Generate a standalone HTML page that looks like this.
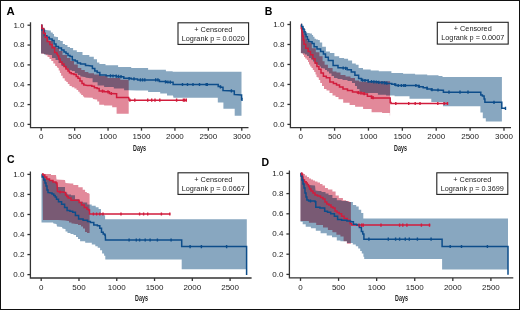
<!DOCTYPE html>
<html><head><meta charset="utf-8"><style>
html,body{margin:0;padding:0;background:#fff;}
svg{display:block;will-change:transform;}
text{font-family:"Liberation Sans",sans-serif;fill:#222;}
.pl{font-size:10.5px;font-weight:bold;fill:#000;}
.yl{font-size:8px;text-anchor:end;}
.xl{font-size:8px;text-anchor:middle;}
.dl{font-size:9.3px;font-weight:bold;text-anchor:middle;}
.lt{font-size:7.3px;text-anchor:middle;}
.ax{stroke:#333;stroke-width:1.3;fill:none;}
.lg{stroke:#222;stroke-width:1.1;fill:#fff;}
.bb{fill:#88a7c0;}
.rb{fill:#e2899a;mix-blend-mode:multiply;}
.bl{stroke:#0d4d8a;stroke-width:1.5;fill:none;}
.bt{stroke:#0d4d8a;stroke-width:1.4;fill:none;}
.rl{stroke:#d11c3c;stroke-width:1.5;fill:none;}
.rt{stroke:#d11c3c;stroke-width:1.4;fill:none;}
</style></head><body>
<svg width="520" height="310" viewBox="0 0 520 310">
<rect x="0.5" y="0.5" width="519" height="309" fill="#fff" stroke="#111" stroke-width="1"/>
<g id="cA" style="isolation:isolate"><polygon class="bb" points="41,25.2 42.5,25.2 42.5,28 44,28 45,28 45,30 46,30 49.5,30.5 50.8,30.5 50.8,32.5 52,32.5 52.8,32.5 52.8,34 53.5,34 54,34 54,36.5 54.5,36.5 57,37 58,37 58,40 59,40 60.2,40 60.2,41 61.5,41 62.8,41 62.8,44 64,44 65,44 65,45 66,45 67.5,45 67.5,47 69,47 70,47 70,48 71,48 73.1,48 73.1,50.3 75.2,50.3 76.8,50.3 76.8,51.9 78.4,51.9 82.5,51.9 82.5,55.1 86.5,55.1 89.3,55.1 89.3,56.7 92.1,56.7 93.8,56.7 93.8,59.2 95.4,59.2 97,59.2 97,62.4 98.6,62.4 99.4,62.4 99.4,64 100.2,64 105.5,64 105.5,65.3 110.7,65.3 118.1,65.3 118.1,67 125.5,67 131.2,67 131.2,68.1 136.8,68.1 148.1,68.1 148.1,69.7 159.4,69.7 165.9,69.7 165.9,71.3 172.3,71.3 173,71.8 241.5,71.8 241.5,115.8 234.7,115.8 234.7,108.7 223.4,108.7 223.4,102.6 217.8,102.6 217.8,97.8 173.5,97.8 173,95.5 167,95.5 167,93.6 161,93.6 160.2,93.6 160.2,92 159.4,92 148.1,92 148.1,90.4 136.8,90.4 128.7,90.2 124.1,90.2 124.1,88.6 119.5,88.6 113.8,88.6 113.8,87 108.2,87 104.1,87 104.1,85.4 100,85.4 97.6,85.4 97.6,82.2 95.2,82.2 92.6,82.2 92.6,78.3 90,78.3 86.8,77.7 85.5,77.7 85.5,77 84.2,77 81.6,76.4 80.3,76.4 80.3,75.1 79,75.1 77.8,75.1 77.8,73.2 76.5,73.2 74.8,73.2 74.8,70.9 73.2,70.9 71.6,70.9 71.6,70 70,70 68.5,70 68.5,68.5 67,68.5 65,68.5 65,66 63,66 61.5,66 61.5,63 60,63 58.5,63 58.5,60 57,60 55.5,60 55.5,58 54,58 52,58 52,55 50,55 47,54.5 44,54.5 44,53.5 41,53.5"/>
<polygon class="rb" points="41,25.2 42,25.2 42,31 43,31 44.5,31 44.5,37 46,37 48.5,37 48.5,41 51,41 53,41 53,45.5 55,45.5 56.5,45.5 56.5,48 58,48 59,48 59,51 60,51 62.5,51 62.5,55 65,55 67,55 67,58 69,58 70.5,58 70.5,61 72,61 74,61 74,64.5 76,64.5 77.8,64.5 77.8,68 79.7,68 81.3,68 81.3,69.9 82.9,69.9 84.8,69.9 84.8,71.9 86.8,71.9 88.4,71.9 88.4,73.2 90,73.2 94,73.2 94,74.5 98,74.5 100.5,74.5 100.5,76 103,76 107.5,76 107.5,78 112,78 120.3,78 120.3,79.7 128.7,79.7 128.7,113.7 117,113.7 116.6,113.7 116.6,107.2 116.2,107.2 112.2,107.2 112.2,105.6 108.2,105.6 104.1,105.6 104.1,104.8 100,104.8 99.2,104.8 99.2,101.5 98.5,101.5 97.2,101.5 97.2,99.4 96,99.4 93.1,99.1 92.5,97.8 84.4,97.5 84.1,97.5 84.1,96.5 83.7,96.5 82.9,96.5 82.9,94.9 82.1,94.9 81.2,94.9 81.2,93.6 80.2,93.6 79.7,93.6 79.7,91.7 79.2,91.7 78.2,91.7 78.2,90.1 77.3,90.1 76.5,90.1 76.5,88.5 75.7,88.5 74.4,88.5 74.4,87.2 73.1,87.2 71.8,87.2 71.8,85.9 70.5,85.9 69.5,85.9 69.5,83.9 68.6,83.9 67.8,83.9 67.8,82 67,82 66.3,82 66.3,80.8 65.6,80.8 64.7,80.8 64.7,78.3 63.7,78.3 62.7,78.3 62.7,75.7 61.7,75.7 61.1,75.7 61.1,73.1 60.5,73.1 59.9,73.1 59.9,70.5 59.2,70.5 58.7,70.5 58.7,67.9 58.2,67.9 57.5,67.5 56.9,67.5 56.9,66.1 56.2,66.1 55.2,66.1 55.2,63.5 54.3,63.5 53.3,63.5 53.3,61 52.3,61 51.3,61 51.3,59 50.4,59 49.5,59 49.5,57.1 48.5,57.1 47.5,57.1 47.5,55.2 46.5,55.2 45.5,55.2 45.5,53.9 44.6,53.9 41,53.5"/>
<polyline class="bl" points="41,25.2 41.9,25.2 41.9,30.1 42.8,30.1 44.4,30.1 44.4,35.7 46,35.7 46.9,35.7 46.9,37.3 47.7,37.3 49.3,37.3 49.3,39 50.9,39 52.1,39 52.1,40.6 53.3,40.6 54.1,40.6 54.1,44 55,44 56,44 56,46.5 57,46.5 58.5,46.5 58.5,48 60,48 61.5,48 61.5,50 63,50 64,50 64,52 65,52 66,52 66,53.5 67,53.5 68,53.5 68,55.5 69,55.5 70,55.5 70,56.5 71,56.5 72.3,56.5 72.3,60 73.6,60 75.2,60 75.2,61 76.8,61 77.4,61 77.4,63 78,63 80.5,63 80.5,64 83,64 85.5,64 85.5,65.5 88,65.5 91.3,66 92.4,66 92.4,68.4 93.6,68.4 94.8,68.4 94.8,71 96,71 97.2,71 97.2,72.5 98.5,72.5 99.8,72.5 99.8,75 101.2,75 106.1,75 106.1,75.8 111,75.8 116.6,75.8 116.6,76.7 122.2,76.7 123.8,76.7 123.8,78.3 125.5,78.3 131.2,78.3 131.2,79.1 136.8,79.1 137.6,79.1 137.6,79.9 138.4,79.9 158.6,79.9 159.4,79.9 159.4,81.5 160.2,81.5 166.2,81.5 166.2,82.3 172.3,82.3 173.1,82.3 173.1,84.5 173.9,84.5 217.8,84.5 218.2,84.5 218.2,86.5 218.6,86.5 220.6,86.5 220.6,87.3 222.6,87.3 223,87.3 223,90.5 223.4,90.5 234,91 234.3,91 234.3,94.5 234.7,94.5 241.2,94.9 241.6,94.9 241.6,99.4 242,99.4"/>
<polyline class="rl" points="41,25.2 41.9,25.2 41.9,28.5 42.8,28.5 43.6,28.5 43.6,33.3 44.5,33.3 45.2,33.3 45.2,37.3 46,37.3 47.2,37.3 47.2,41.4 48.5,41.4 49.8,41.4 49.8,44.6 51,44.6 52.1,44.6 52.1,47.8 53.3,47.8 54.6,47.8 54.6,52.5 56,52.5 56.8,52.5 56.8,54 57.5,54 58,56 58.8,56 58.8,59 59.5,59 60.2,59 60.2,62 61,62 62,62 62,64 63,64 64,64 64,66.5 65,66.5 66,66.5 66,69 67,69 68,69 68,71 69,71 69.5,71 69.5,72.8 70,72.8 71.3,72.8 71.3,73.8 72.6,73.8 73.9,73.8 73.9,74.5 75.2,74.5 76.2,74.5 76.2,76.4 77.1,76.4 78,76.4 78,78.3 79,78.3 80,78.3 80,80.9 81,80.9 82,80.9 82,83.5 82.9,83.5 83.8,83.5 83.8,85.1 84.8,85.1 87.4,85.4 90.5,85.4 91.8,85.4 91.8,86.2 93.1,86.2 94.4,86.2 94.4,87.8 95.7,87.8 97.1,87.8 97.1,88.6 98.5,88.6 99.2,88.6 99.2,91 100,91 104.1,91 104.1,91.8 108.2,91.8 109.4,91.8 109.4,93.5 110.6,93.5 116.2,93.8 116.6,93.8 116.6,97.5 117,97.5 128.7,97.5 129.2,100.2 187,100.2"/>
<path class="bt" d="M110.5 74.2v3.2M113 74.4v3.2M116.2 74.6v3.2M118.6 74.8v3.2M121 75v3.2M129.1 77v3.2M134 77.3v3.2M140.4 78.3v3.2M142.6 78.3v3.2M144.8 78.3v3.2M155.7 78.3v3.2M157.9 78.3v3.2M165.5 80.3v3.2M167.9 80.4v3.2M170.3 80.6v3.2M182.5 82.9v3.2M187.5 82.9v3.2M193 82.9v3.2M199.5 82.9v3.2M206.2 82.9v3.2M207.3 82.9v3.2M220.4 85.3v3.2M231.4 89.3v3.2M242 97.8v3.2"/>
<path class="rt" d="M102.5 89.6v3.2M108 90.2v3.2M111.3 91.9v3.2M129.9 98.6v3.2M134.8 98.6v3.2M147.7 98.6v3.2M151.7 98.6v3.2M155 98.6v3.2M159.8 98.6v3.2M176.6 98.6v3.2M183.4 98.6v3.2M184.5 98.6v3.2M186.3 98.6v3.2"/></g>
<g id="cB" style="isolation:isolate"><polygon class="bb" points="301,24.6 301.9,24.6 301.9,26.5 302.9,26.5 303.9,26.5 303.9,29.1 304.8,29.1 305.5,29.1 305.5,31.7 306.1,31.7 307.1,31.7 307.1,33 308,33 309.6,33 309.6,33.6 311.3,33.6 311.9,33.6 311.9,34.9 312.5,34.9 313.1,34.9 313.1,36.8 313.8,36.8 314.5,36.8 314.5,38.8 315.1,38.8 316.1,38.8 316.1,39.4 317,39.4 318,39.4 318,40.1 319,40.1 319.8,40.1 319.8,42.6 320.6,42.6 322.2,42.6 322.2,46.7 323.8,46.7 325.9,46.7 325.9,51.5 327.9,51.5 329.9,51.5 329.9,53.1 331.9,53.1 334.4,53.1 334.4,56.3 336.8,56.3 339.2,56.3 339.2,58 341.6,58 344.1,58 344.1,58.8 346.5,58.8 348.1,58.8 348.1,60.4 349.7,60.4 352.1,60.4 352.1,63.6 354.5,63.6 355.8,63.6 355.8,64.8 357,64.8 358.6,64.8 358.6,68.1 360.2,68.1 363,68.1 363,69.5 365.9,69.5 370.7,69.5 370.7,70.5 375.5,70.5 378.8,70.5 378.8,71.3 382,71.3 386.9,71.3 391.4,71.3 391.4,72.9 395.8,72.9 403.1,72.9 403.1,73.7 410.3,73.7 415.1,73.7 415.1,74.5 420,74.5 427.2,74.5 427.2,75.3 434.5,75.3 438.5,75.3 438.5,76 442.5,76 442.5,77 501.9,77 501.9,121.5 485.8,121.5 485.8,118.3 482.8,118.3 482.8,112.6 480.4,112.6 480.4,106.3 443.4,106.3 443,106.3 443,102 442.6,102 431.3,102 431.3,98.8 420,98.8 409.5,98.8 409.5,96.3 399,96.3 394.6,96.3 394.6,95.5 390.1,95.5 386.1,95.5 386.1,94.7 382,94.7 377.9,94.7 377.9,93.1 373.9,93.1 366,93 363.5,93 363.5,92 361,92 359.5,92 359.5,89 358,89 357,89 357,86 356,86 355,86 355,83 354,83 352,83 352,81 350,81 347.5,81 347.5,80 345,80 342.5,80 342.5,79 340,79 337.5,79 337.5,78 335,78 334,78 334,76 333,76 331.5,76 331.5,73.5 330,73.5 329,73.5 329,71.5 328,71.5 327,71.5 327,70 326,70 325,70 325,68.5 324,68.5 322,68 321,68 321,66.5 320,66.5 319.5,66.5 319.5,65 319,65 317.5,65 317.5,64 316,64 315,64 315,61.5 314,61.5 313,61.5 313,59.5 312,59.5 311,59.5 311,58 310,58 309,58 309,56 308,56 307,56 307,54.5 306,54.5 305,54.5 305,53.5 304,53.5 300.9,53.1"/>
<polygon class="rb" points="301,24.6 301.8,24.6 301.8,28 302.5,28 303.2,28 303.2,31.7 304,31.7 304.5,31.7 304.5,35 305,35 305.8,35 305.8,38.5 306.5,38.5 307.2,38.5 307.2,41 308,41 308.6,41 308.6,42.6 309.3,42.6 311.8,42.6 311.8,48.3 314.2,48.3 315.8,48.3 315.8,52.3 317.4,52.3 319.4,52.3 319.4,56.3 321.4,56.3 322.6,56.3 322.6,61.2 323.8,61.2 324.6,61.2 324.6,64.8 325.5,64.8 327.9,64.8 327.9,68.1 330.3,68.1 332.6,68.1 332.6,71.5 335,71.5 336.5,71.5 336.5,72.5 338,72.5 340.5,72.5 340.5,75 343,75 345.5,75 345.5,76.5 348,76.5 350.5,76.5 350.5,78 353,78 355,78 355,80.5 357,80.5 359,80.5 359,81.5 361,81.5 367,81.8 382,81.2 390.1,81.2 390.1,115.5 389.8,115.5 389.8,113.1 382.1,113.1 382.1,112.3 374.4,112.3 371.6,112.3 371.6,109.1 368.8,109.1 363.1,109.1 363.1,106.7 357.5,106.7 355.1,106.7 355.1,105 352.6,105 349.6,105 349.6,102.8 346.5,102.8 343.2,102.8 343.2,99.3 340,99.3 338.5,99.3 338.5,97 337,97 335.5,97 335.5,95.5 334,95.5 332.5,95.5 332.5,93 331,93 329.5,93 329.5,90.5 328,90.5 326.5,90.5 326.5,89 325,89 324,89 324,86 323,86 322,86 322,83 321,83 320.2,83 320.2,80 319.5,80 318.8,80 318.8,77.5 318,77.5 317,77 316.5,77 316.5,74.5 316,74.5 315.5,74.5 315.5,72 315,72 314.2,72 314.2,70 313.5,70 312.8,70 312.8,68 312,68 311.5,68 311.5,66.5 311,66.5 310.2,66.5 310.2,64.5 309.5,64.5 309,64.5 309,62 308.5,62 308,62 308,60 307.5,60 306.8,60 306.8,58.5 306,58.5 305.2,58.5 305.2,57 304.5,57 304,57 304,55 303.5,55 303,55 303,53.5 302.5,53.5 300.9,53.1"/>
<polyline class="rl" points="301,24.6 301.3,24.6 301.3,28.5 301.6,28.5 302.2,32.3 302.5,32.3 302.5,36.2 302.9,36.2 303.2,36.2 303.2,40.1 303.5,40.1 304,40.1 304,44.2 304.5,44.2 305.7,44.2 305.7,48.3 306.9,48.3 308.1,48.3 308.1,51.5 309.3,51.5 310.5,51.5 310.5,54.7 311.7,54.7 312.9,54.7 312.9,58.8 314.2,58.8 315,58.8 315,63 315.8,63 316.9,63 316.9,66.5 318,66.5 318.9,66.5 318.9,69.3 319.8,69.3 321,69.3 321,72.9 322.2,72.9 323.4,72.9 323.4,76.2 324.7,76.2 326.3,76.2 326.3,77.8 327.9,77.8 329.9,77.8 329.9,82 331.9,82 333.4,82 333.4,83.5 335,83.5 336.5,83.5 336.5,85 338,85 339.5,85 339.5,87 341,87 343,87 343,89 345,89 347.5,89 347.5,90.5 350,90.5 352.5,90.5 352.5,92 355,92 357.5,92 357.5,93 360,93 363,93 363,94 366,94 367.4,94 367.4,96.2 368.8,96.2 371.6,96.2 371.6,98.1 374.4,98.1 389.8,98.1 390.2,98.1 390.2,102.6 390.6,102.6 391,102.6 391,103.5 391.4,103.5 448.1,103.5"/>
<polyline class="bl" points="301,24.6 301.6,24.6 301.6,26.5 302.2,26.5 302.9,26.5 302.9,29.1 303.5,29.1 304.1,29.1 304.1,31.7 304.8,31.7 305.1,31.7 305.1,34.3 305.5,34.3 306.1,34.3 306.1,36.8 306.7,36.8 307.4,36.8 307.4,39.4 308,39.4 308.6,39.4 308.6,41.4 309.3,41.4 310.9,41.8 312.1,41.8 312.1,43.4 313.3,43.4 314.1,43.4 314.1,46.7 315,46.7 317,46.7 317,49.1 319,49.1 320.6,49.1 320.6,51.5 322.2,51.5 323.4,51.5 323.4,53.9 324.7,53.9 325.5,53.9 325.5,57.2 326.3,57.2 328.3,57.2 328.3,60.5 330.3,60.5 333.1,60.5 333.1,65.5 336,65.5 338,65.5 338,67.7 340,67.7 344.8,68.1 347.2,68.1 347.2,69.7 349.7,69.7 351.3,69.7 351.3,72.1 352.9,72.1 354.9,72.1 354.9,75.3 357,75.3 358.6,75.3 358.6,78.6 360.2,78.6 361.4,78.6 361.4,80.2 362.6,80.2 368.2,80.2 368.2,81.8 373.9,81.8 377.9,81.8 377.9,82.6 382,82.6 385.6,82.6 385.6,83.4 389.3,83.4 391.8,83.4 391.8,84.2 394.2,84.2 395.8,84.2 395.8,85.5 397.4,85.5 416.8,85.5 418.4,85.5 418.4,86.7 420,86.7 423.2,86.7 423.2,87.8 426.5,87.8 427.3,87.8 427.3,89.1 428.1,89.1 431.3,89.1 431.3,89.9 434.5,89.9 442.6,90.2 443.4,90.2 443.4,92.2 444.1,92.2 480.4,92.2 480.8,92.2 480.8,95.1 481.2,95.1 482.4,95.1 482.4,95.9 483.7,95.9 484.1,95.9 484.1,99.1 484.5,99.1 484.9,99.1 484.9,102.3 485.3,102.3 501.4,102.3 501.8,102.3 501.8,108.3 502.2,108.3 505.5,108.3"/>
<path class="bt" d="M343.2 66.4v3.2M345.7 66.8v3.2M362.6 78.6v3.2M365 78.9v3.2M368.3 79.4v3.2M371.5 79.9v3.2M373.9 80.2v3.2M376.3 80.4v3.2M378.8 80.7v3.2M382 81v3.2M384.4 81.3v3.2M386.8 81.5v3.2M394.9 82.9v3.2M398.2 83.9v3.2M401.4 83.9v3.2M403.8 83.9v3.2M405.4 83.9v3.2M415.9 83.9v3.2M419.2 84.8v3.2M427 86.6v3.2M432 88v3.2M438 88.4v3.2M449 90.6v3.2M460 90.6v3.2M468 90.6v3.2M494 100.7v3.2M505.5 106.7v3.2"/>
<path class="rt" d="M358.6 91.1v3.2M361 91.6v3.2M364.2 92.1v3.2M371.5 95.5v3.2M373.1 96.1v3.2M395.8 101.9v3.2M408.7 101.9v3.2M415.2 101.9v3.2M420 101.9v3.2M437.8 101.9v3.2M444.2 101.9v3.2M447.5 101.9v3.2"/></g>
<g id="cC" style="isolation:isolate"><polygon class="bb" points="41.5,174.5 44,175 44.8,175 44.8,177 45.5,177 46.8,177 46.8,179 48,179 49.5,179 49.5,180.5 51,180.5 53,180.5 53,182 55,182 56,182 56,183 57,183 57,187 64.5,187 65,187 65,192.5 65.5,192.5 67.2,192.5 67.2,194.5 68.9,194.5 71,194.5 71,195.3 73,195.3 75,195.3 75,199.3 77,199.3 79,199.3 79,201.8 81,201.8 83,201.8 83,202.6 85.1,202.6 87.2,202.6 87.2,204.5 89.3,204.5 91.7,204.5 91.7,205.7 94,205.7 95.7,205.7 95.7,207.3 97.4,207.3 98.6,207.3 98.6,208.9 99.8,208.9 101,208.9 101,212.9 102.2,212.9 103.5,212.9 103.5,215.3 104.7,215.3 105.1,215.3 105.1,219.3 105.5,219.3 246.8,219.3 246.8,269.3 181.7,269.3 181.7,259.6 105.3,259.6 105.3,255.8 104.1,255.8 104.1,253.4 102.9,253.4 102.1,253.4 102.1,250.2 101.3,250.2 100.1,250.2 100.1,247.8 98.9,247.8 97.7,247.8 97.7,246.2 96.5,246.2 95.3,246.2 95.3,244.4 94.2,244.4 91.8,244.4 91.8,242.8 89.3,242.8 85.2,242.8 85.2,241.2 81.2,241.2 80.1,241.2 80.1,239 79,239 78,239 78,237 77,237 76,237 76,235 75,235 73.5,235 73.5,234 72,234 70.5,234 70.5,233 69,233 67.5,233 67.5,231.5 66,231.5 65.5,231.5 65.5,229 65,229 62.5,228.5 62,227 57,226.5 56.5,224 53.5,223.5 53,222.5 41.5,222.5"/>
<polygon class="rb" points="42.5,173.8 46,174 51,174 51,175 56,175 56.5,179.5 65,180 65.5,183 71,183.5 73.3,183.5 73.3,185 75.6,185 78.3,185 78.3,187.2 81,187.2 82.7,187.2 82.7,189.7 84.3,189.7 85.1,189.7 85.1,192.1 85.9,192.1 86.8,192.1 86.8,193 87.7,193 88.7,193 88.7,193.7 89.6,193.7 89.6,233 88,233 87,233 87,232 86,232 85,232 85,228.5 84,228.5 83,228.5 83,226.5 82,226.5 81,226.5 81,225 80,225 78,225 78,224 76,224 73,223.5 71.5,223.5 71.5,222.5 70,222.5 69,222.5 69,221 68,221 65,220.5 58,220 43,220"/>
<polyline class="bl" points="41.5,174.5 42.2,174.5 42.2,177 43,177 43.8,177 43.8,180 44.5,180 45,180 45,183 45.5,183 46,183 46,186 46.5,186 47,186 47,190 47.5,190 48,190 48,192.5 48.5,192.5 51,193 52,193 52,194 53,194 53.8,194 53.8,195.5 54.5,195.5 55.2,195.5 55.2,197 56,197 56.5,197 56.5,199.3 57,199.3 58.5,199.3 58.5,201.8 60,201.8 61.6,201.8 61.6,204.2 63.3,204.2 64.6,204.2 64.6,207.6 65.9,207.6 67.1,207.6 67.1,210.5 68.3,210.5 69.9,210.5 69.9,211.3 71.5,211.3 72.7,211.3 72.7,212.3 73.8,212.3 75.4,212.3 75.4,215.5 77,215.5 78.6,215.5 78.6,219 80.2,219 83.1,219 83.1,220.3 85.9,220.3 87.5,220.3 87.5,221.5 89.1,221.5 90.4,221.5 90.4,222.6 91.7,222.6 93.8,222.6 93.8,225 95.8,225 97.4,225 97.4,225.8 99,225.8 99.8,225.8 99.8,228.3 100.6,228.3 101.5,228.3 101.5,232.3 102.4,232.3 103.2,232.3 103.2,233.9 104,233.9 104.7,233.9 104.7,235 105.3,235 105.5,240 181.7,240 181.7,246.6 246.6,246.6 246.6,274.9"/>
<polyline class="rl" points="42,174 43,174 43,175 44,175 44.8,175 44.8,177 45.5,177 46.8,177 46.8,179 48,179 49.5,179 49.5,180.5 51,180.5 53,180.5 53,182 55,182 56,182 56,183 57,183 57.5,191.5 60,192 63,192 65,192.5 65.5,192.5 65.5,195 66,195 66.8,195 66.8,196.5 67.5,196.5 68.2,196.5 68.2,198 69,198 71,198 71,200.2 73,200.2 78,200.3 79.1,200.3 79.1,202.6 80.2,202.6 81.5,202.6 81.5,205 82.7,205 84.3,205 84.3,207.4 85.9,207.4 87,207.4 87,209.2 88,209.2 88.5,209.2 88.5,210 89.1,210 89.5,210 89.5,214 89.9,214 170.3,214"/>
<path class="bt" d="M129.1 238.4v3.2M136.3 238.4v3.2M139.6 238.4v3.2M145.2 238.4v3.2M150.1 238.4v3.2M157.4 238.4v3.2M171.1 238.4v3.2M190.1 245v3.2M201.4 245v3.2M226.6 245v3.2"/>
<path class="rt" d="M60 190.4v3.2M93.4 212.4v3.2M96.6 212.4v3.2M99.8 212.4v3.2M103 212.4v3.2M121 212.4v3.2M139.6 212.4v3.2M143.6 212.4v3.2M147.7 212.4v3.2M161.4 212.4v3.2M169.8 212.4v3.2"/></g>
<g id="cD" style="isolation:isolate"><polygon class="bb" points="300.5,173.5 301.2,173.5 301.2,176 302,176 303,176 303,179 304,179 304.5,179 304.5,181.5 305,181.5 306.5,181.5 306.5,184 308,184 308.5,184 308.5,185 309,185 315,185.5 315.5,190.5 319,191 321.5,191 321.5,192 324,192 325.5,192 325.5,193.5 327,193.5 328.5,193.5 328.5,195 330,195 332.4,195 332.4,197.9 334.8,197.9 336.8,197.9 336.8,200.3 338.8,200.3 341.6,200.3 341.6,201.1 344.5,201.1 347.7,201.1 347.7,202 350.9,202 352.9,202 352.9,204.9 355,204.9 356.2,204.9 356.2,206.5 357.4,206.5 358.7,206.5 358.7,209.7 360,209.7 361.2,209.7 361.2,212.9 362.5,212.9 363.3,212.9 363.3,218.6 364.1,218.6 508,218.6 508,269.6 442.1,269.6 442.1,259 364.2,259 364.2,256.7 363.4,256.7 363.4,253.4 362.6,253.4 361.8,253.4 361.8,251 361,251 360.2,251 360.2,248.6 359.4,248.6 358.2,248.6 358.2,246.2 357,246.2 355.8,246.2 355.8,244.5 354.5,244.5 352.8,244.5 352.8,243 351,243 346.9,243 346.9,241.2 342.8,241.2 340.4,241.2 340.4,240.4 338,240.4 336.8,240.4 336.8,237.2 335.6,237.2 332,237.2 332,235.6 328.3,235.6 326.7,235.6 326.7,233.2 325.1,233.2 320.6,233.2 320.6,230.7 316.2,230.7 315.8,230.7 315.8,228.3 315.4,228.3 310.9,228.3 310.9,226.7 306.5,226.7 305.7,226.7 305.7,224.3 304.9,224.3 302.7,224.3 302.7,221.8 300.5,221.8"/>
<polygon class="rb" points="300.5,173.5 304,174 305,174 305,175.5 306,175.5 307,175.5 307,177 308,177 309,177 309,178.5 310,178.5 311,178.5 311,179.5 312,179.5 313,179.5 313,180.5 314,180.5 315,180.5 315,181.5 316,181.5 317.5,181.5 317.5,182.5 319,182.5 320,182.5 320,184 321,184 322.5,184 322.5,185.5 324,185.5 325,185.5 325,188 326,188 327.9,188 327.9,189.5 329.9,189.5 332.4,189.5 332.4,191.4 334.8,191.4 335.6,191.4 335.6,195.5 336.4,195.5 338.8,195.5 338.8,197.9 341.2,197.9 342.9,197.9 342.9,200.3 344.5,200.3 346.1,200.3 346.1,201.1 347.7,201.1 349.3,201.1 349.3,201.9 350.9,201.9 350.9,243.7 349.3,243.7 346.9,243.7 346.9,241.2 344.5,241.2 343.6,241.2 343.6,236.4 342.8,236.4 340.4,236.4 340.4,234.8 338,234.8 336.4,234.8 336.4,232.3 334.8,232.3 332.4,232.3 332.4,229.9 329.9,229.9 327.9,229.9 327.9,227.5 325.9,227.5 323,227.5 323,225 320.2,225 316.2,225 316.2,222.7 312.2,222.7 308.9,222.7 308.9,221 305.7,221 300.5,221"/>
<polyline class="rl" points="300.5,173.5 302,174 302.5,174 302.5,177 303,177 303.3,180.1 304.5,180.1 304.5,181.7 305.7,181.7 306.1,181.7 306.1,183 306.5,183 307.2,183 307.2,184.5 308,184.5 308.5,184.5 308.5,186.5 309,186.5 309.5,186.5 309.5,189 310,189 311,189 311,191 312,191 313,191 313,193 314,193 315,193 315,195 316,195 317.5,195 317.5,196 319,196 320.5,196 320.5,197.5 322,197.5 323,197.5 323,199 324,199 325,199 325,202 326,202 326.8,202 326.8,204 327.5,204 328.8,204 328.8,205 330,205 331,205 331,207 332,207 333,207 333,208 334,208 335,208 335,211 336,211 337,211 337,212.5 338,212.5 339.2,212.5 339.2,213.8 340.4,213.8 341.6,213.8 341.6,216.2 342.8,216.2 344.1,216.2 344.1,218.6 345.3,218.6 347.3,218.6 347.3,220.2 349.3,220.2 350.1,220.2 350.1,223.5 350.9,223.5 351.7,223.5 351.7,225.1 352.5,225.1 430.3,225.1"/>
<polyline class="bl" points="300.5,173.5 301,173.5 301,176 301.5,176 302,176 302,180 302.5,180 303,180 303,184 303.5,184 304,184 304,188 304.5,188 305,188 305,193 305.5,193 306,193 306,197 306.5,197 306.9,197 306.9,200 307.3,200 308.6,200 308.6,201 310,201 314.6,201 315,201 315,201.7 315.4,201.7 315.8,201.7 315.8,207.3 316.2,207.3 319.9,207.3 319.9,208.1 323.5,208.1 324.7,208.1 324.7,211.3 325.9,211.3 327.5,211.3 327.5,212.2 329.1,212.2 330.7,212.2 330.7,213.8 332.3,213.8 334.4,213.8 334.4,216.2 336.4,216.2 337.6,216.2 337.6,219.4 338.8,219.4 341.6,219.4 341.6,220.2 344.5,220.2 346.9,220.2 346.9,221 349.3,221 350.5,221 350.5,221.8 351.7,221.8 353.4,221.8 353.4,224.3 355,224.3 356.6,224.3 356.6,225.1 358.2,225.1 359.4,225.1 359.4,227.5 360.6,227.5 361.4,227.5 361.4,231.5 362.2,231.5 362.8,231.5 362.8,234 363.4,234 363.9,234 363.9,239.2 364.5,239.2 442.1,239.2 442.1,246.5 508,246.5 508,274.8"/>
<path class="bt" d="M310.5 199.4v3.2M368.9 237.6v3.2M388.3 237.6v3.2M395.6 237.6v3.2M399.6 237.6v3.2M405.3 237.6v3.2M409.3 237.6v3.2M417.4 237.6v3.2M431.1 237.6v3.2M450.2 244.9v3.2M461.5 244.9v3.2M487.4 244.9v3.2"/>
<path class="rt" d="M301.8 172.3v3.2M359 223.5v3.2M361.7 223.5v3.2M363.3 223.5v3.2M381 223.5v3.2M399.6 223.5v3.2M402.8 223.5v3.2M406.9 223.5v3.2M421.4 223.5v3.2M429.5 223.5v3.2"/></g>
<g id="pA"><text x="6.6" y="14.8" class="pl" textLength="8.2" lengthAdjust="spacingAndGlyphs">A</text>
<path d="M30.5 22.2V127.7H248.5" class="ax"/>
<path d="M27.5 124.4H30.5" class="ax"/>
<text x="24.5" y="126.75" class="yl">0.0</text>
<path d="M27.5 104.56H30.5" class="ax"/>
<text x="24.5" y="106.91" class="yl">0.2</text>
<path d="M27.5 84.72H30.5" class="ax"/>
<text x="24.5" y="87.07" class="yl">0.4</text>
<path d="M27.5 64.88H30.5" class="ax"/>
<text x="24.5" y="67.23" class="yl">0.6</text>
<path d="M27.5 45.04H30.5" class="ax"/>
<text x="24.5" y="47.39" class="yl">0.8</text>
<path d="M27.5 25.2H30.5" class="ax"/>
<text x="24.5" y="27.55" class="yl">1.0</text>
<path d="M41.2 127.7V130.7" class="ax"/>
<text x="41.2" y="139.3" class="xl">0</text>
<path d="M74.63 127.7V130.7" class="ax"/>
<text x="74.63" y="139.3" class="xl">500</text>
<path d="M108.06 127.7V130.7" class="ax"/>
<text x="108.06" y="139.3" class="xl">1000</text>
<path d="M141.49 127.7V130.7" class="ax"/>
<text x="141.49" y="139.3" class="xl">1500</text>
<path d="M174.92 127.7V130.7" class="ax"/>
<text x="174.92" y="139.3" class="xl">2000</text>
<path d="M208.35 127.7V130.7" class="ax"/>
<text x="208.35" y="139.3" class="xl">2500</text>
<path d="M241.78 127.7V130.7" class="ax"/>
<text x="241.78" y="139.3" class="xl">3000</text>
<text x="139.5" y="150.9" class="dl" textLength="12.8" lengthAdjust="spacingAndGlyphs">Days</text>
<rect x="178" y="22.8" width="70.6" height="21.6" class="lg"/>
<text x="213.3" y="31.6" class="lt">+ Censored</text>
<text x="213.3" y="40.6" class="lt">Logrank p = 0.0020</text></g><g id="pB"><text x="264.8" y="14.8" class="pl">B</text>
<path d="M290.4 21.2V127.7H511" class="ax"/>
<path d="M287.4 124.4H290.4" class="ax"/>
<text x="284.4" y="126.75" class="yl">0.0</text>
<path d="M287.4 104.42H290.4" class="ax"/>
<text x="284.4" y="106.77" class="yl">0.2</text>
<path d="M287.4 84.44H290.4" class="ax"/>
<text x="284.4" y="86.79" class="yl">0.4</text>
<path d="M287.4 64.46H290.4" class="ax"/>
<text x="284.4" y="66.81" class="yl">0.6</text>
<path d="M287.4 44.48H290.4" class="ax"/>
<text x="284.4" y="46.83" class="yl">0.8</text>
<path d="M287.4 24.5H290.4" class="ax"/>
<text x="284.4" y="26.85" class="yl">1.0</text>
<path d="M300.7 127.7V130.7" class="ax"/>
<text x="300.7" y="139.3" class="xl">0</text>
<path d="M334.58 127.7V130.7" class="ax"/>
<text x="334.58" y="139.3" class="xl">500</text>
<path d="M368.46 127.7V130.7" class="ax"/>
<text x="368.46" y="139.3" class="xl">1000</text>
<path d="M402.34 127.7V130.7" class="ax"/>
<text x="402.34" y="139.3" class="xl">1500</text>
<path d="M436.22 127.7V130.7" class="ax"/>
<text x="436.22" y="139.3" class="xl">2000</text>
<path d="M470.1 127.7V130.7" class="ax"/>
<text x="470.1" y="139.3" class="xl">2500</text>
<path d="M503.98 127.7V130.7" class="ax"/>
<text x="503.98" y="139.3" class="xl">3000</text>
<text x="400.5" y="150.9" class="dl" textLength="12.8" lengthAdjust="spacingAndGlyphs">Days</text>
<rect x="437.3" y="22.3" width="70.9" height="21.8" class="lg"/>
<text x="472.75" y="31.1" class="lt">+ Censored</text>
<text x="472.75" y="40.1" class="lt">Logrank p = 0.0007</text></g><g id="pC"><text x="6.9" y="162.8" class="pl">C</text>
<path d="M30.4 171.4V278H251.6" class="ax"/>
<path d="M27.4 274.6H30.4" class="ax"/>
<text x="24.4" y="276.95" class="yl">0.0</text>
<path d="M27.4 254.56H30.4" class="ax"/>
<text x="24.4" y="256.91" class="yl">0.2</text>
<path d="M27.4 234.52H30.4" class="ax"/>
<text x="24.4" y="236.87" class="yl">0.4</text>
<path d="M27.4 214.48H30.4" class="ax"/>
<text x="24.4" y="216.83" class="yl">0.6</text>
<path d="M27.4 194.44H30.4" class="ax"/>
<text x="24.4" y="196.79" class="yl">0.8</text>
<path d="M27.4 174.4H30.4" class="ax"/>
<text x="24.4" y="176.75" class="yl">1.0</text>
<path d="M41.2 278V281" class="ax"/>
<text x="41.2" y="289.6" class="xl">0</text>
<path d="M78.98 278V281" class="ax"/>
<text x="78.98" y="289.6" class="xl">500</text>
<path d="M116.76 278V281" class="ax"/>
<text x="116.76" y="289.6" class="xl">1000</text>
<path d="M154.54 278V281" class="ax"/>
<text x="154.54" y="289.6" class="xl">1500</text>
<path d="M192.32 278V281" class="ax"/>
<text x="192.32" y="289.6" class="xl">2000</text>
<path d="M230.1 278V281" class="ax"/>
<text x="230.1" y="289.6" class="xl">2500</text>
<text x="141.5" y="301.1" class="dl" textLength="12.8" lengthAdjust="spacingAndGlyphs">Days</text>
<rect x="178" y="172.8" width="70.6" height="21.6" class="lg"/>
<text x="213.3" y="181.6" class="lt">+ Censored</text>
<text x="213.3" y="190.6" class="lt">Logrank p = 0.0667</text></g><g id="pD"><text x="261.5" y="165.9" class="pl">D</text>
<path d="M289.4 170.4V277.9H513.3" class="ax"/>
<path d="M286.4 274.4H289.4" class="ax"/>
<text x="283.4" y="276.75" class="yl">0.0</text>
<path d="M286.4 254.2H289.4" class="ax"/>
<text x="283.4" y="256.55" class="yl">0.2</text>
<path d="M286.4 234H289.4" class="ax"/>
<text x="283.4" y="236.35" class="yl">0.4</text>
<path d="M286.4 213.8H289.4" class="ax"/>
<text x="283.4" y="216.15" class="yl">0.6</text>
<path d="M286.4 193.6H289.4" class="ax"/>
<text x="283.4" y="195.95" class="yl">0.8</text>
<path d="M286.4 173.4H289.4" class="ax"/>
<text x="283.4" y="175.75" class="yl">1.0</text>
<path d="M300.5 277.9V280.9" class="ax"/>
<text x="300.5" y="289.5" class="xl">0</text>
<path d="M338.58 277.9V280.9" class="ax"/>
<text x="338.58" y="289.5" class="xl">500</text>
<path d="M376.66 277.9V280.9" class="ax"/>
<text x="376.66" y="289.5" class="xl">1000</text>
<path d="M414.74 277.9V280.9" class="ax"/>
<text x="414.74" y="289.5" class="xl">1500</text>
<path d="M452.82 277.9V280.9" class="ax"/>
<text x="452.82" y="289.5" class="xl">2000</text>
<path d="M490.9 277.9V280.9" class="ax"/>
<text x="490.9" y="289.5" class="xl">2500</text>
<text x="401.5" y="301.1" class="dl" textLength="12.8" lengthAdjust="spacingAndGlyphs">Days</text>
<rect x="436.8" y="172.8" width="71" height="21.6" class="lg"/>
<text x="472.3" y="181.6" class="lt">+ Censored</text>
<text x="472.3" y="190.6" class="lt">Logrank p = 0.3699</text></g>
</svg>
</body></html>
